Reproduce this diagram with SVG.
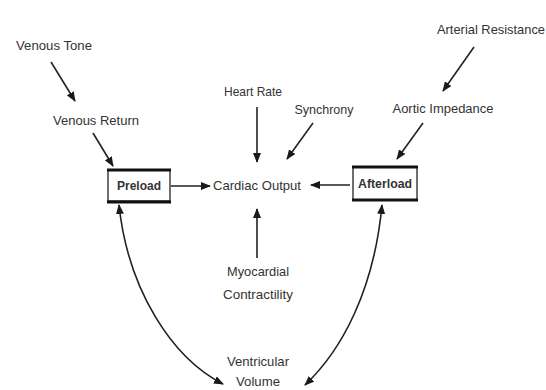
<svg xmlns="http://www.w3.org/2000/svg" width="546" height="390" viewBox="0 0 546 390">
  <defs>
    <marker id="head" viewBox="0 0 10 8" refX="9" refY="4" markerWidth="10" markerHeight="8" markerUnits="userSpaceOnUse" orient="auto-start-reverse">
      <path d="M0,0 L10,4 L0,8 Z" fill="#1a1a1a"/>
    </marker>
    <style>
      text { font-family: "Liberation Sans", Arial, sans-serif; font-size: 13px; fill: #333; text-anchor: middle; }
      .line { stroke: #222; stroke-width: 1.6; fill: none; }
      .bar { stroke: #111; stroke-width: 3.2; }
      .side { stroke: #222; stroke-width: 1.3; fill: none; }
    </style>
  </defs>
  <rect width="546" height="390" fill="#fff"/>

  <g id="connectors">
    <line class="line" x1="51" y1="62" x2="75" y2="101" marker-end="url(#head)"/>
    <line class="line" x1="93" y1="133" x2="113" y2="166" marker-end="url(#head)"/>
    <line class="line" x1="171" y1="186" x2="210" y2="186" marker-end="url(#head)"/>
    <line class="line" x1="350" y1="185" x2="311" y2="185" marker-end="url(#head)"/>
    <line class="line" x1="257" y1="107" x2="257" y2="162" marker-end="url(#head)"/>
    <line class="line" x1="313" y1="123" x2="287" y2="159" marker-end="url(#head)"/>
    <line class="line" x1="257" y1="258" x2="257" y2="209" marker-end="url(#head)"/>
    <line class="line" x1="474" y1="47" x2="443" y2="91" marker-end="url(#head)"/>
    <line class="line" x1="423" y1="123" x2="397" y2="159" marker-end="url(#head)"/>
    <path class="line" d="M119,205 C128,290 172,358 223,384" marker-start="url(#head)" marker-end="url(#head)"/>
    <path class="line" d="M382,205 C374,290 342,350 305,385" marker-start="url(#head)" marker-end="url(#head)"/>
  </g>

  <g id="venous-tone"><text x="54" y="50" textLength="76" lengthAdjust="spacingAndGlyphs">Venous Tone</text></g>
  <g id="venous-return"><text x="96" y="125" textLength="86" lengthAdjust="spacingAndGlyphs">Venous Return</text></g>

  <g id="preload">
    <rect class="side" x="108" y="170" width="62" height="31" fill="#fff"/>
    <line class="bar" x1="107" y1="170" x2="171" y2="170"/>
    <line class="bar" x1="107" y1="202" x2="171" y2="202"/>
    <text x="139" y="190" textLength="44" lengthAdjust="spacingAndGlyphs" style="font-weight:bold">Preload</text>
  </g>

  <g id="cardiac-output"><text x="257" y="190" textLength="88" lengthAdjust="spacingAndGlyphs">Cardiac Output</text></g>

  <g id="afterload">
    <rect class="side" x="353" y="167" width="64" height="33" fill="#fff"/>
    <line class="bar" x1="352" y1="167" x2="418" y2="167"/>
    <line class="bar" x1="352" y1="200" x2="418" y2="200"/>
    <text x="385" y="188" textLength="54" lengthAdjust="spacingAndGlyphs" style="font-weight:bold">Afterload</text>
  </g>

  <g id="heart-rate"><text x="253" y="96" textLength="58" lengthAdjust="spacingAndGlyphs">Heart Rate</text></g>
  <g id="synchrony"><text x="324" y="114" textLength="59" lengthAdjust="spacingAndGlyphs">Synchrony</text></g>

  <g id="myocardial-contractility">
    <text x="258" y="276" textLength="62" lengthAdjust="spacingAndGlyphs">Myocardial</text>
    <text x="258" y="299" textLength="70" lengthAdjust="spacingAndGlyphs">Contractility</text>
  </g>

  <g id="arterial-resistance"><text x="491" y="34" textLength="108" lengthAdjust="spacingAndGlyphs">Arterial Resistance</text></g>
  <g id="aortic-impedance"><text x="443" y="113" textLength="101" lengthAdjust="spacingAndGlyphs">Aortic Impedance</text></g>

  <g id="ventricular-volume">
    <text x="258" y="366" textLength="62" lengthAdjust="spacingAndGlyphs">Ventricular</text>
    <text x="258" y="386" textLength="44" lengthAdjust="spacingAndGlyphs">Volume</text>
  </g>
</svg>
